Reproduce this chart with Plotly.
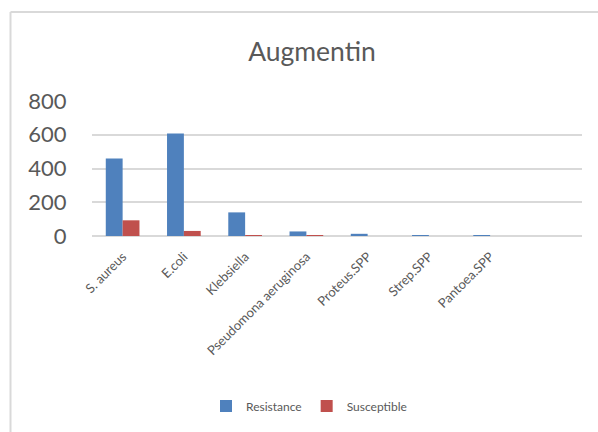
import plotly.graph_objects as go

categories = ["S. aureus", "E.coli", "Klebsiella", "Pseudomona aeruginosa",
              "Proteus.SPP", "Strep.SPP", "Pantoea.SPP"]
resistance = [460, 608, 140, 27, 13, 1, 1]
susceptible = [93, 30, 2, 1, 0, 0, 0]
y_ticks = [0, 200, 400, 600, 800]

W, H = 598, 432
L, R, T, B = 92, 16, 101, 196
pw, ph = W - L - R, H - T - B

def px(x):
    return (x - L) / pw

def py(y):
    return (H - B - y) / ph

font = "Lato, Noto Sans, sans-serif"
txt = "#595959"
grid = "#D9D9D9"

fig = go.Figure()
fig.add_trace(go.Bar(name="Resistance", x=categories, y=resistance,
                     marker=dict(color="#4F81BD", line=dict(width=0))))
fig.add_trace(go.Bar(name="Susceptible", x=categories, y=susceptible,
                     marker=dict(color="#C0504D", line=dict(width=0))))

fig.update_layout(
    width=W, height=H,
    margin=dict(l=L, r=R, t=T, b=B),
    paper_bgcolor="white", plot_bgcolor="white",
    barmode="group", bargap=0.45, bargroupgap=0,
    font=dict(family=font, color=txt),
    title=dict(text="Augmentin", x=312 / W, xref="container", xanchor="center",
               y=1 - 52 / H, yref="container", yanchor="middle",
               font=dict(size=26.5, color=txt, family=font)),
    xaxis=dict(range=[-0.5, 7.5], tickangle=-45, tickfont=dict(size=13, color=txt),
               showgrid=False, showline=False, zeroline=False,
               ticks="outside", ticklen=7, tickcolor="rgba(0,0,0,0)"),
    yaxis=dict(range=[0, 800], tickvals=y_ticks, tickfont=dict(size=22, color=txt),
               showgrid=True, gridcolor=grid, gridwidth=1.5,
               zeroline=True, zerolinecolor=grid, zerolinewidth=1.5,
               showline=False, ticks="outside", ticklen=20,
               tickcolor="rgba(0,0,0,0)"),
    legend=dict(orientation="h", x=px(309), xanchor="center", y=py(406),
                yanchor="middle", font=dict(size=12, color=txt),
                itemwidth=30, traceorder="normal"),
    shapes=[
        dict(type="line", xref="paper", yref="paper", x0=px(10.5), x1=px(10.5),
             y0=py(H + 2), y1=py(12), line=dict(color=grid, width=2)),
        dict(type="line", xref="paper", yref="paper", x0=px(10.5), x1=px(W + 2),
             y0=py(12), y1=py(12), line=dict(color=grid, width=2)),
    ],
)

fig.write_html("out.html")
